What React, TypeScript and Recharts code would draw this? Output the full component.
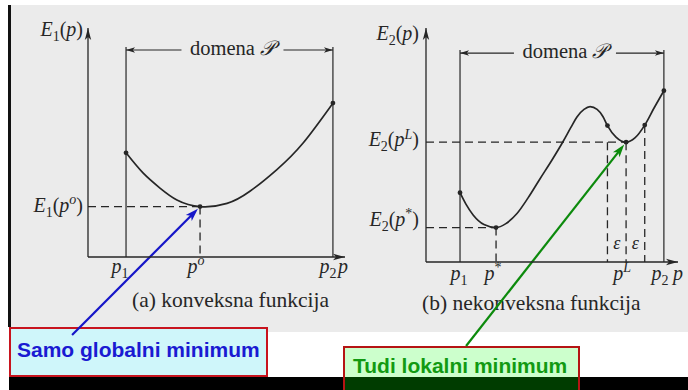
import React from 'react';
import { LineChart, Line, XAxis, YAxis, ReferenceLine, ReferenceDot } from 'recharts';

// (a) convex E1(p) sampled along the domain
const convexP = [14.8, 21.4, 28.0, 34.6, 43.6, 54.1, 63.0, 73.5, 83.7, 95.3];
const convexE = [45.5, 36.7, 30.1, 24.9, 22.0, 23.4, 28.7, 38.2, 49.8, 67.2];
const convexDots = [0, 4, 9];

// (b) nonconvex E2(p): global min at p*, local max, local min at pL, pL +/- eps sampled too
const nonconvexP = [
  13.5, 15.9, 18.7, 23.0, 27.8, 31.7, 36.1, 40.5, 45.2, 50.0, 54.4, 57.5,
  59.9, 62.7, 65.1, 67.9, 70.2, 72.0, 75.4, 79.4, 82.9, 86.8, 90.5, 94.4,
];
const nonconvexE = [
  29.6, 24.6, 20.1, 16.0, 14.7, 16.4, 20.7, 27.4, 35.5, 43.6, 51.5, 57.5,
  62.0, 65.2, 66.4, 65.2, 62.2, 58.3, 53.4, 51.2, 53.0, 58.5, 65.8, 73.2,
];
const nonconvexDots = [0, 4, 17, 19, 21, 23];

// tick labels, "_" = subscript, "^" = superscript
const convexXLabels = ['p_1', 'p^o', 'p_2', 'p'];
const convexYLabels = ['E_1(p^o)', 'E_1(p)'];
const nonconvexXLabels = ['p_1', 'p^*', 'p^L', 'p_2', 'p'];
const nonconvexYLabels = ['E_2(p^*)', 'E_2(p^L)', 'E_2(p)'];

const SERIF = '"Liberation Serif", "DejaVu Serif", serif';
const INK = '#262626';

type Seg = { t: string; it: boolean; sh: number };

const parseMath = (s: string): Seg[] => {
  const out: Seg[] = [];
  for (let i = 0; i < s.length; i++) {
    let c = s[i];
    let sh = 0;
    if ((c === '_' || c === '^') && i + 1 < s.length) {
      sh = c === '_' ? 1 : -1;
      c = s[++i];
    }
    out.push({ t: c, it: /[A-Za-z]/.test(c), sh });
  }
  return out;
};

const MathText = ({ x, y, src, anchor = 'start', size = 20 }: any) => {
  const segs = parseMath(src);
  let cur = 0;
  return (
    <text x={x} y={y} textAnchor={anchor} fontFamily={SERIF} fontSize={size} fill={INK}>
      {segs.map((s, i) => {
        const target = s.sh === 1 ? size * 0.25 : s.sh === -1 ? -size * 0.38 : 0;
        const dy = target - cur;
        cur = target;
        return (
          <tspan key={i} dy={dy} fontStyle={s.it ? 'italic' : 'normal'} fontSize={s.sh ? size * 0.7 : size}>
            {s.t}
          </tspan>
        );
      })}
    </text>
  );
};

const headPath = (x: number, y: number, ang: number, len: number, half: number) => {
  const c = Math.cos(ang);
  const s = Math.sin(ang);
  const bx = x - c * len;
  const by = y - s * len;
  const nx = -s * half;
  const ny = c * half;
  const ix = x - c * len * 0.75;
  const iy = y - s * len * 0.75;
  return `M${x},${y} L${bx + nx},${by + ny} L${ix},${iy} L${bx - nx},${by - ny} Z`;
};

// axis arrowheads
const axisHead = (ang: number) => (props: any) => (
  <path d={headPath(props.cx, props.cy, ang, 12, 3.2)} fill={INK} />
);

// coloured pointer from an annotation box to a minimum
const pointer = (color: string) => (props: any) => {
  const { x1, y1, x2, y2 } = props;
  const ang = Math.atan2(y2 - y1, x2 - x1);
  const tx = x2 - Math.cos(ang) * 3;
  const ty = y2 - Math.sin(ang) * 3;
  return (
    <g>
      <line x1={x1} y1={y1} x2={tx - Math.cos(ang) * 8} y2={ty - Math.sin(ang) * 8} stroke={color} strokeWidth={2.2} />
      <path d={headPath(tx, ty, ang, 13, 4.2)} fill={color} />
    </g>
  );
};

// "<-- domena P -->" bracket spanning p1..p2
const bracket = (props: any) => {
  const { x1, y1, x2 } = props;
  const mid = (x1 + x2) / 2 + 3;
  const gap = 51;
  return (
    <g>
      <line x1={x1} y1={y1} x2={mid - gap} y2={y1} stroke={INK} strokeWidth={1.2} />
      <line x1={mid + gap} y1={y1} x2={x2} y2={y1} stroke={INK} strokeWidth={1.2} />
      <path d={headPath(x1, y1, Math.PI, 9, 2.8)} fill={INK} />
      <path d={headPath(x2, y1, 0, 9, 2.8)} fill={INK} />
      <text x={mid} y={y1 + 5} textAnchor="middle" fontFamily={SERIF} fontSize={20.5} fill={INK}>
        domena <tspan fontStyle="italic">𝒫</tspan>
      </text>
    </g>
  );
};

const epsLabel = (props: any) => (
  <text x={props.cx} y={props.cy + 4} textAnchor="middle" fontFamily={SERIF} fontStyle="italic" fontSize={18} fill={INK}>
    ε
  </text>
);

const dotRenderer = (idx: number[]) => (props: any) => {
  const { cx, cy, index } = props;
  if (!idx.includes(index)) return <g key={index} />;
  return <circle key={index} cx={cx} cy={cy} r={2.4} fill={INK} />;
};

const xTick = (labels: string[], shifts: number[], dy: number) => (props: any) => (
  <MathText x={props.x + shifts[props.index]} y={props.y + dy} src={labels[props.index]} anchor="middle" />
);

const yTick = (labels: string[], dx: number, dys: number[]) => (props: any) => (
  <MathText x={props.x + dx} y={props.y + dys[props.index]} src={labels[props.index]} anchor="end" />
);

const DASH = '8 5';

const ConvexPanel = () => {
  const data = convexP.map((p, i) => ({ p, e: convexE[i] }));
  const p1 = convexP[0];
  const pO = convexP[4];
  const p2 = convexP[convexP.length - 1];
  const eMin = convexE[4];
  return (
    <LineChart width={350} height={390} data={data} margin={{ top: 28, right: 5, bottom: 132, left: 87 }}>
      <XAxis
        type="number"
        dataKey="p"
        domain={[0, 100]}
        ticks={[p1, pO, p2, 100]}
        interval={0}
        height={1}
        tickSize={0}
        tickMargin={0}
        tickLine={false}
        axisLine={{ stroke: INK, strokeWidth: 1.3 }}
        tick={xTick(convexXLabels, [-6, -4, -5, -2], 16)}
      />
      <YAxis
        type="number"
        domain={[0, 100]}
        ticks={[eMin, 100]}
        interval={0}
        width={1}
        tickSize={0}
        tickMargin={0}
        tickLine={false}
        axisLine={{ stroke: INK, strokeWidth: 1.3 }}
        tick={yTick(convexYLabels, -5, [5, 8])}
      />
      <ReferenceDot x={100} y={0} r={0} ifOverflow="visible" shape={axisHead(0)} />
      <ReferenceDot x={0} y={100} r={0} ifOverflow="visible" shape={axisHead(-Math.PI / 2)} />
      <ReferenceLine segment={[{ x: p1, y: 0 }, { x: p1, y: 91.7 }]} stroke={INK} strokeWidth={1.2} />
      <ReferenceLine segment={[{ x: p2, y: 0 }, { x: p2, y: 91.7 }]} stroke={INK} strokeWidth={1.2} />
      <ReferenceLine segment={[{ x: p1, y: 90.4 }, { x: p2, y: 90.4 }]} shape={bracket} />
      <ReferenceLine segment={[{ x: 0, y: eMin }, { x: pO, y: eMin }]} stroke={INK} strokeWidth={1.3} strokeDasharray={DASH} />
      <ReferenceLine segment={[{ x: pO, y: eMin }, { x: pO, y: 0 }]} stroke={INK} strokeWidth={1.3} strokeDasharray={DASH} />
      <Line
        type="natural"
        dataKey="e"
        stroke={INK}
        strokeWidth={1.7}
        dot={dotRenderer(convexDots)}
        isAnimationActive={false}
      />
      <ReferenceLine
        segment={[{ x: -6.2, y: -34.1 }, { x: pO, y: eMin }]}
        ifOverflow="visible"
        shape={pointer('#1616c8')}
      />
    </LineChart>
  );
};

const NonconvexPanel = () => {
  const data = nonconvexP.map((p, i) => ({ p, e: nonconvexE[i] }));
  const p1 = nonconvexP[0];
  const pStar = nonconvexP[4];
  const pMinus = nonconvexP[17];
  const pL = nonconvexP[19];
  const pPlus = nonconvexP[21];
  const p2 = nonconvexP[nonconvexP.length - 1];
  const eStar = nonconvexE[4];
  const eL = nonconvexE[19];
  const ePlus = nonconvexE[21];
  return (
    <LineChart width={344} height={390} data={data} margin={{ top: 28, right: 10, bottom: 127, left: 81 }}>
      <XAxis
        type="number"
        dataKey="p"
        domain={[0, 100]}
        ticks={[p1, pStar, pL, p2, 100]}
        interval={0}
        height={1}
        tickSize={0}
        tickMargin={0}
        tickLine={false}
        axisLine={{ stroke: INK, strokeWidth: 1.3 }}
        tick={xTick(nonconvexXLabels, [-1, -3, -4, -4, 0], 18)}
      />
      <YAxis
        type="number"
        domain={[0, 100]}
        ticks={[eStar, eL, 100]}
        interval={0}
        width={1}
        tickSize={0}
        tickMargin={0}
        tickLine={false}
        axisLine={{ stroke: INK, strokeWidth: 1.3 }}
        tick={yTick(nonconvexYLabels, -7, [-2, 4, 12])}
      />
      <ReferenceDot x={100} y={0} r={0} ifOverflow="visible" shape={axisHead(0)} />
      <ReferenceDot x={0} y={100} r={0} ifOverflow="visible" shape={axisHead(-Math.PI / 2)} />
      <ReferenceLine segment={[{ x: p1, y: 0 }, { x: p1, y: 90.6 }]} stroke={INK} strokeWidth={1.2} />
      <ReferenceLine segment={[{ x: p2, y: 0 }, { x: p2, y: 90.6 }]} stroke={INK} strokeWidth={1.2} />
      <ReferenceLine segment={[{ x: p1, y: 89.3 }, { x: p2, y: 89.3 }]} shape={bracket} />
      <ReferenceLine segment={[{ x: 0, y: eStar }, { x: pStar, y: eStar }]} stroke={INK} strokeWidth={1.3} strokeDasharray={DASH} />
      <ReferenceLine segment={[{ x: pStar, y: eStar }, { x: pStar, y: 0 }]} stroke={INK} strokeWidth={1.3} strokeDasharray={DASH} />
      <ReferenceLine segment={[{ x: 0, y: eL }, { x: pL, y: eL }]} stroke={INK} strokeWidth={1.3} strokeDasharray={DASH} />
      <ReferenceLine segment={[{ x: pMinus, y: eL }, { x: pMinus, y: 0 }]} stroke={INK} strokeWidth={1.3} strokeDasharray={DASH} />
      <ReferenceLine segment={[{ x: pL, y: eL }, { x: pL, y: 0 }]} stroke={INK} strokeWidth={1.3} strokeDasharray={DASH} />
      <ReferenceLine segment={[{ x: pPlus, y: ePlus }, { x: pPlus, y: 0 }]} stroke={INK} strokeWidth={1.3} strokeDasharray={DASH} />
      <ReferenceDot x={(pMinus + pL) / 2} y={7.3} r={0} shape={epsLabel} />
      <ReferenceDot x={(pL + pPlus) / 2} y={7.3} r={0} shape={epsLabel} />
      <Line
        type="monotone"
        dataKey="e"
        stroke={INK}
        strokeWidth={1.7}
        dot={dotRenderer(nonconvexDots)}
        isAnimationActive={false}
      />
      <ReferenceLine
        segment={[{ x: 15.9, y: -35.9 }, { x: pL, y: eL }]}
        ifOverflow="visible"
        shape={pointer('#0c8a0c')}
      />
    </LineChart>
  );
};

const abs = (l: number, t: number, w: number, h: number): React.CSSProperties => ({
  position: 'absolute',
  left: l,
  top: t,
  width: w,
  height: h,
});

const caption: React.CSSProperties = {
  position: 'absolute',
  fontFamily: SERIF,
  fontSize: 21.5,
  lineHeight: '22px',
  color: INK,
  whiteSpace: 'nowrap',
};

const boxText: React.CSSProperties = {
  position: 'absolute',
  fontFamily: '"Liberation Sans", Arial, sans-serif',
  fontWeight: 'bold',
  fontSize: 21,
  lineHeight: '21px',
  whiteSpace: 'nowrap',
};

export default function App() {
  return (
    <div style={{ ...abs(0, 0, 688, 390), background: '#ffffff', overflow: 'hidden' }}>
      <div style={{ ...abs(10, 5, 678, 327), background: '#ebebeb' }} />
      <div style={{ ...abs(8, 5, 3, 322), background: '#111' }} />
      <div style={{ ...abs(9, 377, 679, 13), background: '#000' }} />
      <div
        style={{
          ...abs(9, 327, 259, 50),
          boxSizing: 'border-box',
          border: '2px solid #c8141e',
          background: '#cff6fa',
        }}
      />
      <div style={{ ...boxText, left: 17, top: 339, color: '#1a1ad2' }}>Samo globalni minimum</div>
      <div
        style={{
          ...abs(343, 346, 237, 46),
          boxSizing: 'border-box',
          border: '2px solid #b51414',
          background: 'linear-gradient(to bottom, #ccffcc 0px, #ccffcc 29px, #003c00 29px, #003c00 100%)',
        }}
      />
      <div style={{ ...boxText, left: 353, top: 355, color: '#129a12' }}>Tudi lokalni minimum</div>
      <div style={{ ...caption, left: 132, top: 289 }}>(a) konveksna funkcija</div>
      <div style={{ ...caption, left: 422, top: 292 }}>(b) nekonveksna funkcija</div>
      <div style={abs(0, 0, 350, 390)}>
        <ConvexPanel />
      </div>
      <div style={abs(344, 0, 344, 390)}>
        <NonconvexPanel />
      </div>
    </div>
  );
}
